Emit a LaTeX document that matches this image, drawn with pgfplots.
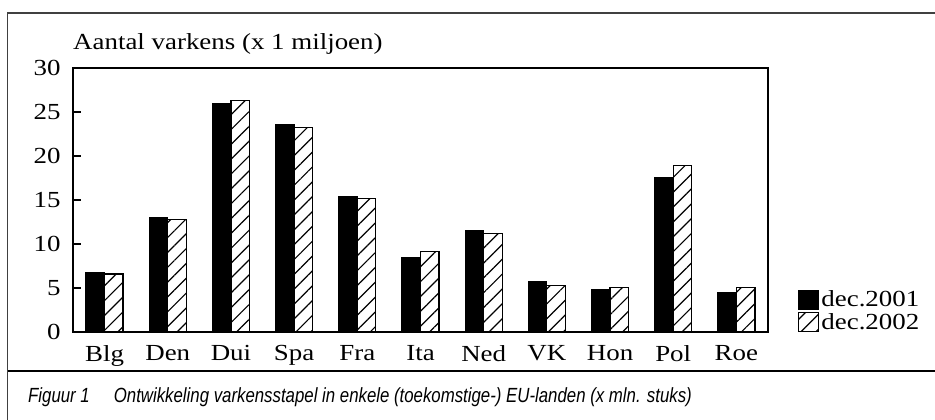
\documentclass[border=0pt]{standalone}
\usepackage{pgfplots}
\pgfplotsset{compat=1.18}
\usetikzlibrary{patterns.meta}
\usepackage{fontspec}
\setmainfont[FakeStretch=1.17]{Liberation Serif}
\newfontfamily\capfont[FakeStretch=0.82]{Liberation Sans}
\begin{document}
\begin{tikzpicture}
\path[use as bounding box] (0,0) rectangle (935bp,420bp);
\draw[line width=1.3bp,black!75] (935bp,407bp) -- (7.5bp,407bp) -- (7.5bp,0bp);
\draw[line width=2.5bp] (7.5bp,49bp) -- (935bp,49bp);
\node[anchor=base west,inner sep=0pt] at (28bp,18bp) {\capfont\itshape\fontsize{20.5bp}{22bp}\selectfont Figuur 1\hspace{24bp}Ontwikkeling varkensstapel in enkele (toekomstige-) EU-landen (x mln. stuks)};
\node[anchor=base west,inner sep=0pt] at (73bp,370bp) {\fontsize{23bp}{25bp}\selectfont Aantal varkens (x 1 miljoen)};
\begin{axis}[
  at={(73bp,88bp)}, anchor=south west,
  scale only axis, width=695bp, height=264bp,
  xmin=-0.5, xmax=10.5, ymin=0, ymax=30,
  ytick={0,5,...,30},
  xtick=\empty,
  minor xtick={0.5,1.5,...,9.5},
  extra x ticks={0,1,...,10},
  extra x tick labels={Blg,Den,Dui,Spa,Fra,Ita,Ned,VK,Hon,Pol,Roe},
  extra x tick style={tick style={draw=none}},
  major tick length=8bp, minor tick length=5bp,
  tick align=inside,
  xtick pos=bottom, ytick pos=left,
  tick style={line width=1.2bp,black},
  axis line style={line width=1.4bp},
  /pgf/number format/assume math mode=true,
  ticklabel style={font=\fontsize{23bp}{25bp}\selectfont},
  yticklabel style={xshift=-9bp},
  xticklabel style={yshift=-2bp},
  ybar=0pt, bar width=18.5bp,
  legend style={at={(1,0)}, anchor=south west, xshift=30bp, yshift=-1bp, draw=none, fill=none, inner sep=0pt, row sep=1bp,
    font=\fontsize{23bp}{22bp}\selectfont, nodes={inner sep=2bp}},
  legend cell align=left,
  legend image code/.code={\draw[#1] (-5bp,-9.5bp) rectangle (15bp,9.5bp);},
]
\addplot[fill=black, draw=black, line width=1.2bp] coordinates {
(0,6.7) (1,13.0) (2,25.9) (3,23.6) (4,15.4) (5,8.4) (6,11.55) (7,5.7) (8,4.8) (9,17.5) (10,4.45)};
\addplot[draw=black, line width=1.2bp, pattern={Lines[angle=45,distance=10.5bp,line width=1.2bp]}, pattern color=black] coordinates {
(0,6.6) (1,12.8) (2,26.3) (3,23.2) (4,15.2) (5,9.15) (6,11.2) (7,5.3) (8,5.05) (9,18.9) (10,5.05)};
\legend{dec.2001,dec.2002}
\end{axis}
\end{tikzpicture}
\end{document}
